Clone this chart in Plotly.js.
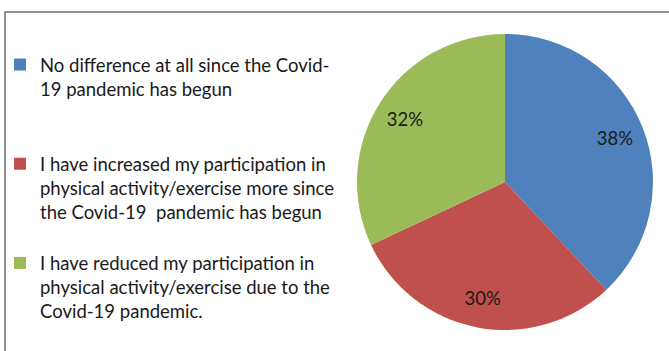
<!DOCTYPE html>
<html>
<head>
<meta charset="utf-8">
<script src="https://cdn.plot.ly/plotly-3.0.1.min.js"></script>
<style>html,body{margin:0;padding:0;background:#fff;}#chart{width:669px;height:351px;}</style>
</head>
<body>
<div id="chart"></div>
<script>
const categories = [
  "No difference at all since the Covid-<br>19 pandemic has begun<br>&nbsp;<br>&nbsp;",
  "I have increased my participation in<br>physical activity/exercise more since<br>the Covid-19  pandemic has begun<br>&nbsp;",
  "I have reduced my participation in<br>physical activity/exercise due to the<br>Covid-19 pandemic."
];
const percentages = [38, 30, 32];
const colors = ["#4F81BD", "#C0504D", "#9BBB59"];

const W = 669, H = 351;
const cx = 505, cy = 182, r = 148;
const pieDomain = {x: [(cx - r) / W, (cx + r) / W], y: [1 - (cy + r) / H, 1 - (cy - r) / H]};

const slices = {
  type: "pie",
  labels: categories,
  values: percentages,
  sort: false,
  direction: "clockwise",
  rotation: 0,
  marker: {colors: colors, line: {color: "#ffffff", width: 0}},
  textinfo: "none",
  domain: pieDomain,
  hoverinfo: "none"
};

// transparent ring on top that carries the percentage labels near the rim
const labelRing = {
  type: "pie",
  labels: categories,
  values: percentages,
  sort: false,
  direction: "clockwise",
  rotation: 0,
  hole: 0.6,
  showlegend: false,
  marker: {colors: ["rgba(0,0,0,0)", "rgba(0,0,0,0)", "rgba(0,0,0,0)"], line: {width: 0}},
  texttemplate: "%{value}%",
  textposition: "inside",
  insidetextorientation: "horizontal",
  textfont: {family: "Lato, sans-serif", size: 18.5, color: "#1a1a1a"},
  domain: pieDomain,
  hoverinfo: "none"
};

const layout = {
  width: W, height: H,
  margin: {l: 0, r: 0, t: 0, b: 0},
  paper_bgcolor: "#ffffff",
  showlegend: true,
  legend: {
    x: 0, y: 1 - 46 / H, xanchor: "left", yanchor: "top",
    valign: "top",
    tracegroupgap: 0,
    font: {family: "Lato, sans-serif", size: 18.5, color: "#1a1a1a"},
    bgcolor: "rgba(0,0,0,0)"
  },
  shapes: [{
    type: "rect", xref: "paper", yref: "paper",
    x0: 5 / W, x1: 1.02, y0: -0.02, y1: 1 - 12 / H,
    line: {color: "#6e6e6e", width: 1.5}, fillcolor: "rgba(0,0,0,0)", layer: "below"
  }]
};

Plotly.newPlot("chart", [slices, labelRing], layout, {staticPlot: true, displayModeBar: false});
</script>
</body>
</html>
